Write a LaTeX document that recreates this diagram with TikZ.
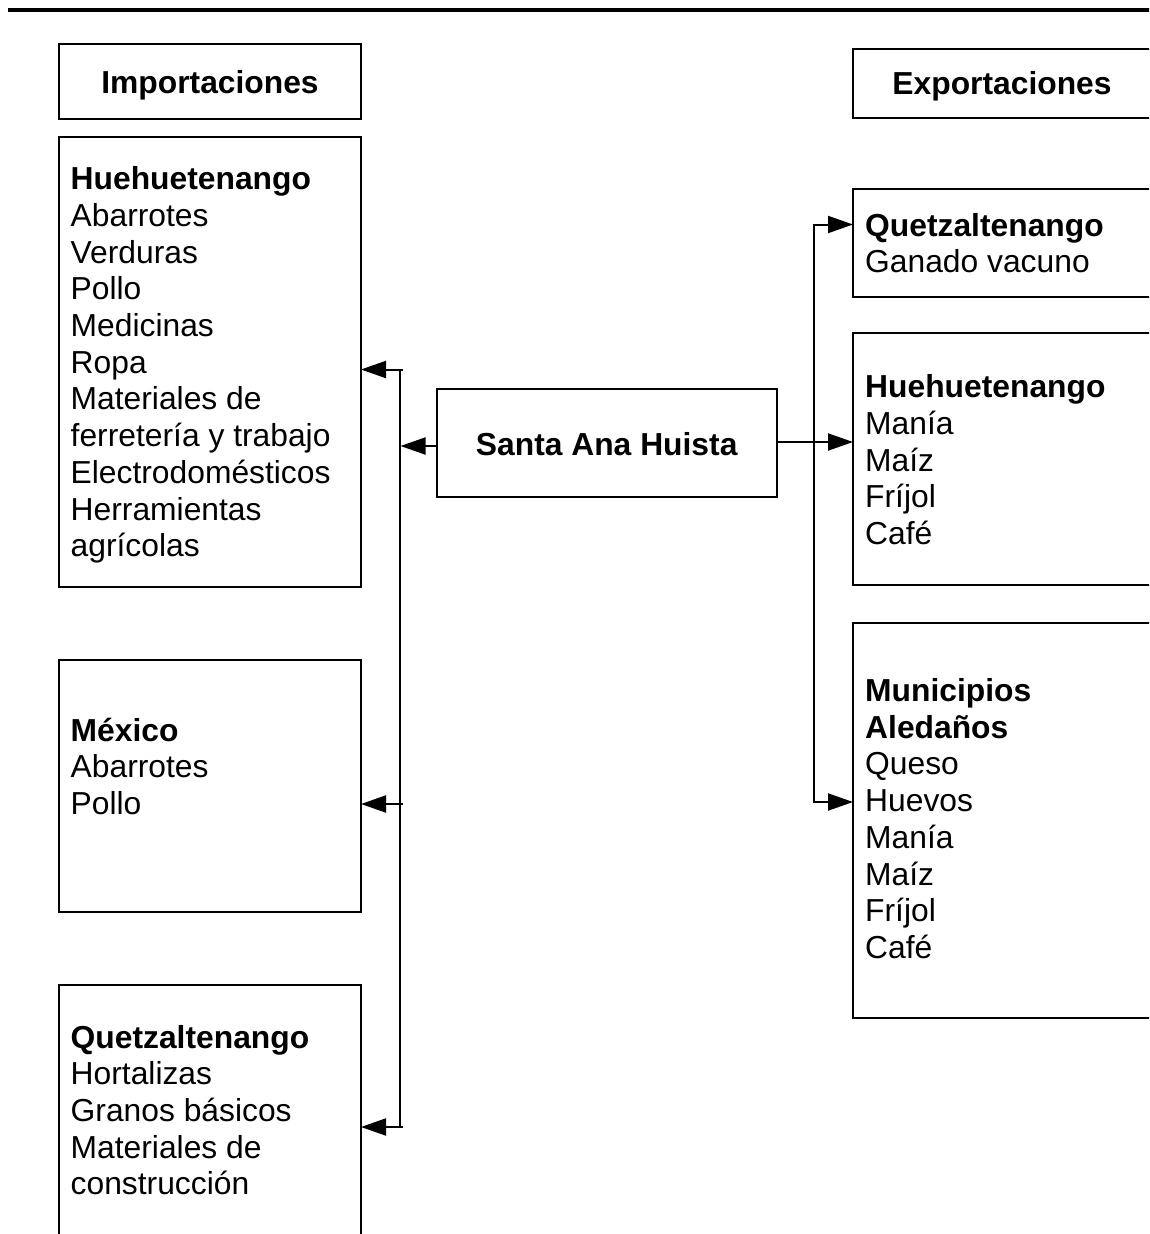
\documentclass[tikz,border=0pt]{standalone}
\usepackage{fontspec}
\setmainfont{Liberation Sans}
\usetikzlibrary{arrows.meta}
% left-aligned block of lines whose baseline is that of its first line
\newcommand\itemlines[1]{\begin{tabular}[t]{@{}l@{}}#1\end{tabular}}

\begin{document}
\begin{tikzpicture}[x=1pt,y=-1pt,
  box/.style={draw, line width=2pt, rectangle, inner sep=0pt, outer sep=0pt},
  txt/.style={anchor=base west, inner sep=0pt, font=\fontsize{31.8}{36.7}\selectfont},
  head/.style={anchor=base, inner sep=0pt, font=\fontsize{31.8}{36.7}\selectfont\bfseries},
  link/.style={line width=2pt},
  arr/.style={line width=2pt, -{Triangle[length=25pt,width=17pt]}},
]
\clip (0,0) rectangle (1149,1234);

% heading rule
\coordinate (ruleL) at (8,10);
\coordinate (ruleR) at (1160,10);
\draw[line width=3.5pt] (ruleL) -- (ruleR);

% column headings
\node[box, minimum width=302pt, minimum height=74.7pt] (imp) at (210,81.7) {};
\node[head] (impT) at (210,93) {Importaciones};
\node[box, minimum width=300pt, minimum height=69pt] (exp) at (1003,83.8) {};
\node[head] (expT) at (1002,94.7) {Exportaciones};

% central municipality
\node[box, minimum width=340pt, minimum height=108pt] (sah) at (606.7,443.3) {};
\node[head] (sahT) at (606.7,455) {Santa Ana Huista};

% import origins
\node[box, minimum width=302pt, minimum height=450.3pt] (hueI) at (210,362.2) {};
\node[txt] (hueIt) at (70.5,189.7) {\itemlines{\textbf{Huehuetenango}\\Abarrotes\\Verduras\\Pollo\\Medicinas\\Ropa\\Materiales de\\ferretería y trabajo\\Electrodomésticos\\Herramientas\\agrícolas}};

\node[box, minimum width=302pt, minimum height=252pt] (mex) at (210,786) {};
\node[txt] (mexT) at (70.5,741) {\itemlines{\textbf{México}\\Abarrotes\\Pollo}};

\node[box, minimum width=302pt, minimum height=275pt] (queI) at (210,1122.5) {};
\node[txt] (queIt) at (70.5,1048) {\itemlines{\textbf{Quetzaltenango}\\Hortalizas\\Granos básicos\\Materiales de\\construcción}};

% export destinations
\node[box, minimum width=300pt, minimum height=107.4pt] (queE) at (1003,243) {};
\node[txt] (queEt) at (865,236) {\itemlines{\textbf{Quetzaltenango}\\Ganado vacuno}};

\node[box, minimum width=300pt, minimum height=251.7pt] (hueE) at (1003,459.2) {};
\node[txt] (hueEt) at (865,397.7) {\itemlines{\textbf{Huehuetenango}\\Manía\\Maíz\\Fríjol\\Café}};

\node[box, minimum width=300pt, minimum height=395.3pt] (mun) at (1003,820.4) {};
\node[txt] (munT) at (865,701.5) {\itemlines{\textbf{Municipios}\\\textbf{Aledaños}\\Queso\\Huevos\\Manía\\Maíz\\Fríjol\\Café}};

% import bus
\coordinate (busTop) at (399.5,369.5);
\coordinate (busBot) at (399.5,1127);
\coordinate (lbT) at (403,369.5);
\coordinate (lbM) at (403,804);
\coordinate (lbB) at (403,1127);
\coordinate (lbS) at (400.5,446);
\draw[link] (busTop) -- (busBot);
\draw[arr] (lbT) -- (hueI.east |- lbT);
\draw[arr] (lbM) -- (mex.east |- lbM);
\draw[arr] (lbB) -- (queI.east |- lbB);
\draw[arr] (sah.west |- lbS) -- (lbS);

% export bus
\coordinate (rbT) at (814,224.5);
\coordinate (rbS) at (814,442);
\coordinate (rbB) at (814,802);
\draw[arr] (sah.east |- rbS) -- (hueE.west |- rbS);
\draw[arr] (rbS) -- (rbT) -- (queE.west |- rbT);
\draw[arr] (rbS) -- (rbB) -- (mun.west |- rbB);
\end{tikzpicture}
\end{document}
